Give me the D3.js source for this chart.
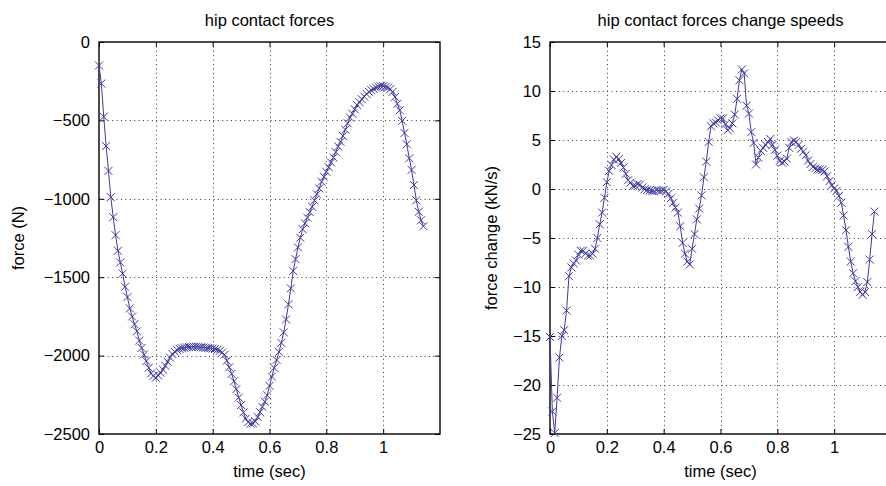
<!DOCTYPE html>
<html>
<head>
<meta charset="utf-8">
<script src="https://cdn.jsdelivr.net/npm/d3@7"></script>
<style>
  body { margin: 0; background: #fff; }
  svg { display: block; }
  text { font-family: "Liberation Sans", Arial, Helvetica, sans-serif; fill: #000; }
</style>
</head>
<body>
<svg id="chart" width="886" height="486"></svg>
<script>
// Hip joint contact force sampled at 120 Hz, and its rate of change.
const sampleRate = 120;

// Contact force (N)
const forceN = [
  -150, -265, -476, -664, -822, -990, -1117, -1232, -1331, -1406,
  -1477, -1561, -1627, -1699, -1751, -1800, -1845, -1904, -1951, -1993,
  -2035, -2078, -2113, -2130, -2141, -2127, -2109, -2089, -2065, -2040,
  -2013, -1990, -1975, -1964, -1957, -1953, -1950, -1947, -1945, -1943,
  -1943, -1943, -1945, -1947, -1948, -1950, -1951, -1953, -1955, -1958,
  -1963, -1970, -1980, -1995, -2032, -2074, -2116, -2164, -2214, -2268,
  -2315, -2362, -2402, -2424, -2434, -2432, -2420, -2392, -2361, -2327,
  -2294, -2253, -2193, -2134, -2078, -2028, -1976, -1919, -1852, -1769,
  -1673, -1571, -1460, -1385, -1310, -1248, -1194, -1156, -1121, -1085,
  -1051, -1010, -971, -934, -891, -859, -828, -798, -768, -737,
  -702, -666, -637, -599, -559, -518, -482, -457, -429, -403,
  -384, -365, -348, -332, -318, -307, -299, -291, -285, -282,
  -282, -286, -291, -300, -318, -350, -394, -435, -503, -580,
  -652, -742, -816, -912, -1010, -1083, -1137, -1175
];

// Force change speed (kN/s)
const forceRate = [
  -15.1, -22.7, -24.9, -21.3, -17.2, -15.0, -14.4, -12.4, -8.9, -8.0,
  -7.6, -7.3, -6.7, -6.3, -6.3, -6.6, -6.8, -6.8, -6.6, -6.1,
  -5.0, -3.6, -2.4, -0.9, 0.7, 1.85, 2.45, 3.0, 3.3, 3.05,
  2.65, 2.2, 1.55, 0.9, 0.65, 0.3, 0.35, 0.5, 0.45, 0.15,
  0.0, -0.1, -0.15, -0.2, -0.25, -0.1, -0.15, -0.15, -0.1, -0.25,
  -0.5, -0.95, -1.4, -1.9, -2.4, -3.8, -5.5, -6.6, -7.4, -7.7,
  -6.1, -4.6, -3.1, -2.0, -0.65, 1.2, 2.8, 4.8, 6.4, 6.7,
  6.8, 7.0, 7.2, 7.2, 6.6, 6.0, 6.2, 6.7, 7.6, 9.2,
  11.1, 12.2, 11.8, 8.5, 7.7, 5.8, 4.7, 2.5, 3.2, 3.9,
  4.2, 4.5, 4.8, 5.1, 4.5, 4.0, 3.4, 2.85, 2.7, 2.8,
  3.1, 4.2, 4.8, 4.95, 4.8, 4.5, 4.1, 3.8, 3.45, 2.9,
  2.55, 2.25, 2.1, 2.0, 2.0, 1.95, 1.8, 1.3, 0.8, 0.4,
  0.05, -0.2, -0.7, -1.4, -2.7, -4.2, -5.9, -7.4, -8.6, -9.4,
  -10.0, -10.5, -10.8, -10.5, -9.5, -7.2, -4.6, -2.3
];

const timeTicks = [0, 0.2, 0.4, 0.6, 0.8, 1];
const timeTickLabels = ["0", "0.2", "0.4", "0.6", "0.8", "1"];
const forceTicks = [0, -500, -1000, -1500, -2000, -2500];
const rateTicks = [15, 10, 5, 0, -5, -10, -15, -20, -25];

const lineColor = "#3d3b9e";
const fontSize = 16.5;
const fmtTick = v => (v < 0 ? "\u2212" + Math.abs(v) : String(v));

const svg = d3.select("#chart");

function drawPanel(cfg) {
  const x = d3.scaleLinear().domain([0, 1.2]).range([cfg.left, cfg.right]);
  const y = d3.scaleLinear().domain(cfg.yDomain).range([cfg.bottom, cfg.top]);
  const g = svg.append("g");

  // dotted grid
  const grid = g.append("g")
    .attr("stroke", "#333")
    .attr("stroke-width", 1)
    .attr("stroke-dasharray", "1,3.4");
  timeTicks.forEach(t => {
    if (t === 0) return;
    grid.append("line")
      .attr("x1", Math.round(x(t)) + 0.5).attr("x2", Math.round(x(t)) + 0.5)
      .attr("y1", cfg.top).attr("y2", cfg.bottom);
  });
  cfg.yTicks.forEach(v => {
    if (v === cfg.yDomain[0] || v === cfg.yDomain[1]) return;
    grid.append("line")
      .attr("x1", cfg.left).attr("x2", cfg.right)
      .attr("y1", Math.round(y(v)) + 0.5).attr("y2", Math.round(y(v)) + 0.5);
  });

  // axes with inward ticks on all four sides
  const tickLen = 5;
  const bottomAxis = d3.axisBottom(x).tickValues(timeTicks)
    .tickFormat((d, i) => timeTickLabels[i]).tickSizeInner(-tickLen).tickSizeOuter(0).tickPadding(7);
  const topAxis = d3.axisTop(x).tickValues(timeTicks).tickFormat("").tickSizeInner(-tickLen).tickSizeOuter(0);
  const leftAxis = d3.axisLeft(y).tickValues(cfg.yTicks).tickFormat(fmtTick)
    .tickSizeInner(-tickLen).tickSizeOuter(0).tickPadding(9);
  const rightAxis = d3.axisRight(y).tickValues(cfg.yTicks).tickFormat("").tickSizeInner(-tickLen).tickSizeOuter(0);

  const styleAxis = sel => {
    sel.selectAll("path.domain").remove();
    sel.selectAll("line").attr("stroke", "#000").attr("stroke-width", 1);
    sel.selectAll("text").attr("font-size", fontSize)
      .attr("font-family", "\"Liberation Sans\", Arial, sans-serif").attr("fill", "#000");
  };
  g.append("g").attr("transform", `translate(0,${cfg.bottom})`).call(bottomAxis).call(styleAxis);
  g.append("g").attr("transform", `translate(0,${cfg.top})`).call(topAxis).call(styleAxis);
  g.append("g").attr("transform", `translate(${cfg.left},0)`).call(leftAxis).call(styleAxis);
  g.append("g").attr("transform", `translate(${cfg.right},0)`).call(rightAxis).call(styleAxis);

  // frame
  g.append("rect")
    .attr("x", cfg.left).attr("y", cfg.top)
    .attr("width", cfg.right - cfg.left).attr("height", cfg.bottom - cfg.top)
    .attr("fill", "none").attr("stroke", "#000").attr("stroke-width", 1.4);

  // data
  const pts = cfg.values.map((v, i) => [i / sampleRate, v]);
  g.append("path")
    .datum(pts)
    .attr("fill", "none")
    .attr("stroke", lineColor)
    .attr("stroke-width", 1)
    .attr("d", d3.line().x(d => x(d[0])).y(d => y(d[1])));

  const s = 4;
  g.append("g").selectAll("path.m")
    .data(pts)
    .join("path")
    .attr("class", "m")
    .attr("transform", d => `translate(${x(d[0])},${y(d[1])})`)
    .attr("d", `M${-s},${-s}L${s},${s}M${-s},${s}L${s},${-s}`)
    .attr("stroke", lineColor)
    .attr("stroke-width", 1)
    .attr("fill", "none");

  // title and labels
  const cx = (cfg.left + cfg.right) / 2;
  g.append("text").attr("x", cx).attr("y", 26)
    .attr("text-anchor", "middle").attr("font-size", fontSize).text(cfg.title);
  g.append("text").attr("x", cx).attr("y", 477)
    .attr("text-anchor", "middle").attr("font-size", fontSize).text("time (sec)");
  g.append("text")
    .attr("transform", `translate(${cfg.yLabelX},${(cfg.top + cfg.bottom) / 2}) rotate(-90)`)
    .attr("text-anchor", "middle").attr("font-size", fontSize).text(cfg.yLabel);
}

drawPanel({
  left: 99, right: 440, top: 42, bottom: 434,
  yDomain: [-2500, 0], yTicks: forceTicks, values: forceN,
  title: "hip contact forces", yLabel: "force (N)", yLabelX: 24
});

drawPanel({
  left: 550, right: 891, top: 42, bottom: 434,
  yDomain: [-25, 15], yTicks: rateTicks, values: forceRate,
  title: "hip contact forces change speeds", yLabel: "force change (kN/s)", yLabelX: 497
});
</script>
</body>
</html>
